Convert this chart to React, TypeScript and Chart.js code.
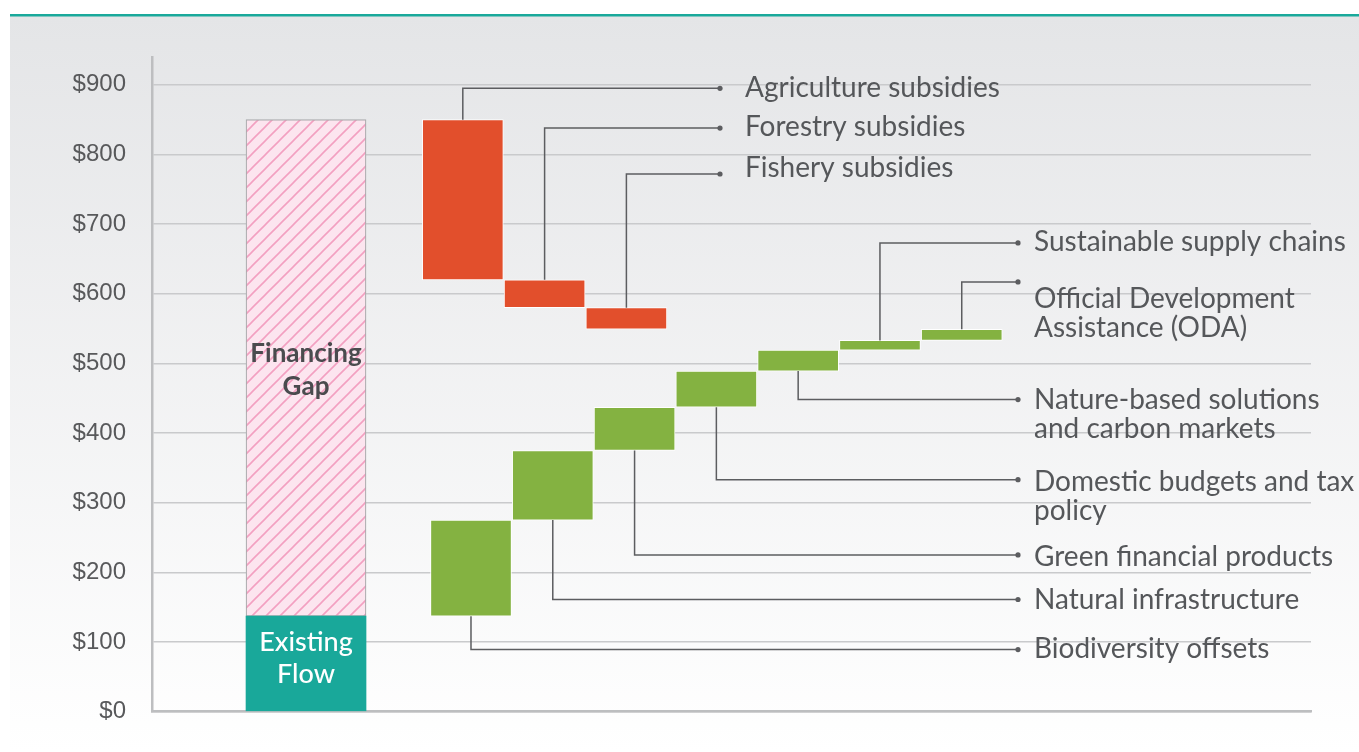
import React, { useEffect, useRef } from 'react';
import { Chart, registerables } from 'chart.js';

Chart.register(...registerables);

// ---------- data ----------
const existingFlow = 137;
const financingGapTop = 850;

const reductionLabels: string[][] = [
  ['Agriculture subsidies'],
  ['Forestry subsidies'],
  ['Fishery subsidies'],
];
const reductionValues = [230, 40, 31];

const increaseLabels: string[][] = [
  ['Biodiversity offsets'],
  ['Natural infrastructure'],
  ['Green financial products'],
  ['Domestic budgets and tax', 'policy'],
  ['Nature-based solutions', 'and carbon markets'],
  ['Sustainable supply chains'],
  ['Official Development', 'Assistance (ODA)'],
];
const increaseValues = [138, 100, 62, 52, 30, 14, 16];

const yTicks = [0, 100, 200, 300, 400, 500, 600, 700, 800, 900];

// ---------- callout layout (value units for the elbow, pixel offsets for text) ----------
const reductionCalloutY = [895, 838, 772];
const reductionTextDy = [0, -1, -6];
const increaseCalloutY = [89, 161, 225, 333, 448, 673, 617];
const increaseTextDy = [-1, 0, 2, 2, 0, -1, 17];

const W = 1359;
const H = 752;

function makeHatch(): CanvasPattern | string {
  const c = document.createElement('canvas');
  const s = 14;
  c.width = s;
  c.height = s;
  const g = c.getContext('2d');
  if (!g) return '#fce4ee';
  g.fillStyle = '#fce5ef';
  g.fillRect(0, 0, s, s);
  g.strokeStyle = '#f3a0c1';
  g.lineWidth = 1.6;
  g.beginPath();
  g.moveTo(-2, s + 2);
  g.lineTo(s + 2, -2);
  g.moveTo(-2, 2);
  g.lineTo(2, -2);
  g.moveTo(s - 2, s + 2);
  g.lineTo(s + 2, s - 2);
  g.stroke();
  const p = g.createPattern(c, 'repeat');
  return p || '#fce4ee';
}

export default function App() {
  const ref = useRef<HTMLCanvasElement | null>(null);

  useEffect(() => {
    const canvas = ref.current;
    if (!canvas) return;

    const step = 1;
    const flowX = 1.883;
    const redStart = 3.8;
    const greenStart = 3.9;

    // cumulative floating segments
    const redData: { x: number; y: [number, number] }[] = [];
    let level = financingGapTop;
    reductionValues.forEach((v, i) => {
      redData.push({ x: redStart + i * step, y: [level - v, level] });
      level -= v;
    });
    const greenData: { x: number; y: [number, number] }[] = [];
    level = existingFlow;
    increaseValues.forEach((v, i) => {
      greenData.push({ x: greenStart + i * step, y: [level, level + v] });
      level += v;
    });

    const textColor = '#55575a';
    const lineColor = '#5c5d60';

    const decor = {
      id: 'decor',
      beforeDraw(chart: any) {
        const { ctx, width, height } = chart;
        ctx.save();
        ctx.fillStyle = '#ffffff';
        ctx.fillRect(0, 0, width, height);
        const g = ctx.createLinearGradient(0, 16, 0, height);
        g.addColorStop(0, '#e4e5e7');
        g.addColorStop(1, '#ffffff');
        ctx.fillStyle = g;
        ctx.fillRect(10, 16, width - 10, height - 16);
        ctx.fillStyle = '#1aa99b';
        ctx.fillRect(10, 14, width - 10, 2.5);
        ctx.restore();
      },
      afterDatasetsDraw(chart: any) {
        const { ctx } = chart;
        const yS = chart.scales.y;
        ctx.save();

        const drawCallout = (
          el: any,
          calloutVal: number,
          dotX: number,
          textX: number,
          lines: string[],
          dy: number
        ) => {
          const top = Math.min(el.y, el.base);
          const bottom = Math.max(el.y, el.base);
          const cy = yS.getPixelForValue(calloutVal);
          const startY = cy < top ? top : bottom;
          ctx.strokeStyle = lineColor;
          ctx.lineWidth = 1.5;
          ctx.beginPath();
          ctx.moveTo(el.x, startY);
          ctx.lineTo(el.x, cy);
          ctx.lineTo(dotX, cy);
          ctx.stroke();
          ctx.fillStyle = lineColor;
          ctx.beginPath();
          ctx.arc(dotX, cy, 2.6, 0, Math.PI * 2);
          ctx.fill();
          ctx.fillStyle = textColor;
          ctx.font = '28px Lato';
          ctx.textAlign = 'left';
          ctx.textBaseline = 'middle';
          lines.forEach((t, k) => {
            ctx.fillText(t, textX, cy + dy + k * 29.5);
          });
        };

        const redMeta = chart.getDatasetMeta(2);
        redMeta.data.forEach((el: any, i: number) => {
          drawCallout(el, reductionCalloutY[i], 720, 745, reductionLabels[i], reductionTextDy[i]);
        });
        const greenMeta = chart.getDatasetMeta(3);
        greenMeta.data.forEach((el: any, i: number) => {
          drawCallout(el, increaseCalloutY[i], 1018, 1034, increaseLabels[i], increaseTextDy[i]);
        });

        // labels inside stacked bar
        const flowEl = chart.getDatasetMeta(0).data[0];
        const gapEl = chart.getDatasetMeta(1).data[0];
        ctx.textAlign = 'center';
        ctx.textBaseline = 'middle';
        ctx.fillStyle = '#ffffff';
        ctx.font = '500 27px Lato';
        const fMid = (flowEl.y + flowEl.base) / 2 - 5;
        ctx.fillText('Existing', flowEl.x, fMid - 16);
        ctx.fillText('Flow', flowEl.x, fMid + 16);
        ctx.fillStyle = '#4a4b4e';
        ctx.font = 'bold 26px Lato';
        const gMid = yS.getPixelForValue(490);
        ctx.fillText('Financing', gapEl.x, gMid - 16.5);
        ctx.fillText('Gap', gapEl.x, gMid + 16.5);
        ctx.restore();
      },
    };

    const chart = new Chart(canvas, {
      type: 'bar',
      data: {
        datasets: [
          {
            label: 'Existing Flow',
            data: [{ x: flowX, y: [0, existingFlow] }] as any,
            backgroundColor: '#19a89a',
            borderWidth: 0,
            barThickness: 120,
            grouped: false,
          } as any,
          {
            label: 'Financing Gap',
            data: [{ x: flowX, y: [existingFlow, financingGapTop] }] as any,
            backgroundColor: makeHatch(),
            borderColor: '#a9aaac',
            borderWidth: 1.2,
            borderSkipped: false,
            barThickness: 120,
            grouped: false,
          } as any,
          {
            label: 'Reductions',
            data: redData as any,
            backgroundColor: '#e24f2c',
            borderColor: 'rgba(255,255,255,0.95)',
            borderWidth: 1,
            borderSkipped: false,
            barThickness: 81,
            grouped: false,
          } as any,
          {
            label: 'Increases',
            data: greenData as any,
            backgroundColor: '#84b241',
            borderColor: 'rgba(255,255,255,0.95)',
            borderWidth: 1,
            borderSkipped: false,
            barThickness: 81,
            grouped: false,
          } as any,
        ],
      },
      options: {
        responsive: false,
        animation: false,
        devicePixelRatio: 1,
        layout: { padding: { top: 57, right: 48, left: 0, bottom: 0 } },
        plugins: {
          legend: { display: false },
          tooltip: { enabled: false },
        },
        scales: {
          x: {
            type: 'linear',
            offset: false,
            min: 0,
            max: 14.17,
            ticks: { display: false },
            grid: { display: false, drawTicks: false, offset: false },
            border: { display: true, color: '#bdbec0', width: 2.5 },
            afterFit: (s: any) => {
              s.height = 40;
            },
          },
          y: {
            min: 0,
            max: 940,
            afterBuildTicks: (s: any) => {
              s.ticks = yTicks.map((v) => ({ value: v }));
            },
            afterFit: (s: any) => {
              s.width = 152;
            },
            ticks: {
              padding: 26,
              color: '#58595b',
              font: { family: 'Liberation Sans', size: 24 },
              callback: (v: any) => '$' + v,
            },
            grid: { color: '#c9cacc', lineWidth: 1.5, drawTicks: false },
            border: { display: true, color: '#bdbec0', width: 2.5 },
          },
        },
      } as any,
      plugins: [decor],
    });

    return () => {
      chart.destroy();
    };
  }, []);

  return (
    <div style={{ position: 'fixed', left: 0, top: 0, width: W, height: H, background: '#fff' }}>
      <canvas ref={ref} width={W} height={H} style={{ display: 'block', width: W, height: H }} />
    </div>
  );
}
